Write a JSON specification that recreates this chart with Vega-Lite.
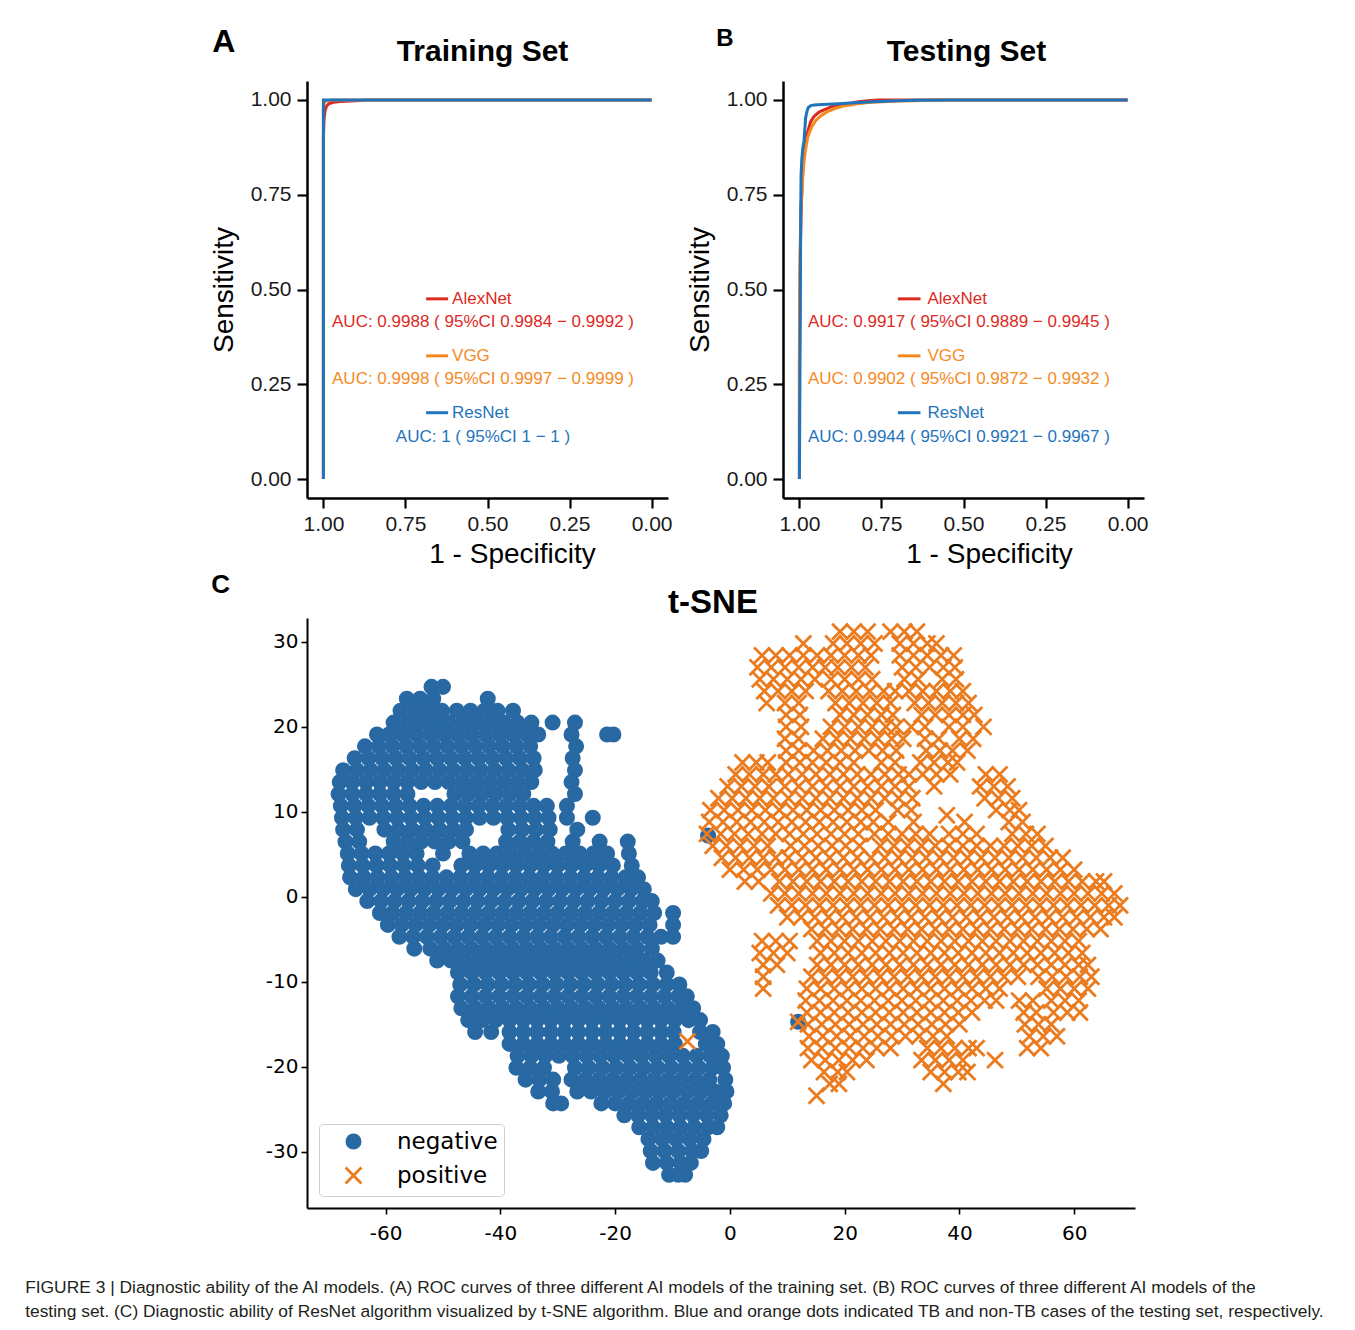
{
"$schema":"https://vega.github.io/schema/vega-lite/v6.json",
"background":"white",
"padding":{"left":25,"top":26,"right":5,"bottom":5},
"title":{"text":["FIGURE 3 | Diagnostic ability of the AI models. (A) ROC curves of three different AI models of the training set. (B) ROC curves of three different AI models of the","testing set. (C) Diagnostic ability of ResNet algorithm visualized by t-SNE algorithm. Blue and orange dots indicated TB and non-TB cases of the testing set, respectively."],"orient":"bottom","anchor":"start","frame":"bounds","dx":-185,"offset":36,"fontSize":17.4,"fontWeight":"normal","font":"Liberation Sans","color":"#231f20","lineHeight":24,"baseline":"top"},
"config":{"view":{"stroke":null},"font":"Liberation Sans","title":{"font":"Liberation Sans","fontWeight":"bold","color":"black","baseline":"bottom"},"axis":{"grid":false}},
"resolve":{"scale":{"fill":"independent","stroke":"independent","shape":"independent","color":"independent"},"legend":{"fill":"independent","stroke":"independent","shape":"independent","color":"independent"}},
"spacing":4,
"vconcat":[
{"spacing":13,"hconcat":[
{"title":{"text":"A","anchor":"start","frame":"bounds","fontSize":32,"offset":-22,"dx":2},
"vconcat":[{
"width":361,"height":417,
"title":{"text":"Training Set","anchor":"middle","frame":"group","fontSize":30,"offset":14,"dx":-5},
"layer":[
{"data":{"values":[
{"model":"AlexNet","i":0,"spec":1,"sens":0},{"model":"AlexNet","i":1,"spec":1,"sens":0.9},{"model":"AlexNet","i":2,"spec":0.998,"sens":0.95},{"model":"AlexNet","i":3,"spec":0.995,"sens":0.972},{"model":"AlexNet","i":4,"spec":0.99,"sens":0.984},{"model":"AlexNet","i":5,"spec":0.984,"sens":0.99},{"model":"AlexNet","i":6,"spec":0.97,"sens":0.994},{"model":"AlexNet","i":7,"spec":0.948,"sens":0.996},{"model":"AlexNet","i":8,"spec":0.9,"sens":0.998},{"model":"AlexNet","i":9,"spec":0.87,"sens":1},{"model":"AlexNet","i":10,"spec":0,"sens":1},
{"model":"VGG","i":0,"spec":1,"sens":0},{"model":"VGG","i":1,"spec":1,"sens":0.98},{"model":"VGG","i":2,"spec":0.997,"sens":0.993},{"model":"VGG","i":3,"spec":0.99,"sens":0.998},{"model":"VGG","i":4,"spec":0.975,"sens":1},{"model":"VGG","i":5,"spec":0,"sens":1},
{"model":"ResNet","i":0,"spec":1,"sens":0},{"model":"ResNet","i":1,"spec":1,"sens":1},{"model":"ResNet","i":2,"spec":0,"sens":1}]},
"mark":{"type":"line","strokeWidth":3},
"encoding":{
"x":{"field":"spec","type":"quantitative","title":"1 - Specificity","scale":{"domain":[-0.05,1.05],"reverse":true,"nice":false,"zero":false},"axis":{"values":[1,0.75,0.5,0.25,0],"format":".2f","domainWidth":2.5,"domainColor":"black","tickWidth":2.2,"tickColor":"black","tickSize":10,"labelFontSize":21,"labelPadding":5,"labelColor":"#1a1a1a","labelFlush":false,"titleFontSize":28,"titleFontWeight":"normal","titleColor":"black","titlePadding":6,"titleX":205}},
"y":{"field":"sens","type":"quantitative","title":"Sensitivity","scale":{"domain":[-0.05,1.05],"nice":false,"zero":false},"axis":{"values":[0,0.25,0.5,0.75,1],"format":".2f","domainWidth":2.5,"domainColor":"black","tickWidth":2.2,"tickColor":"black","tickSize":10,"labelFontSize":21,"labelPadding":6,"labelColor":"#1a1a1a","labelFlush":false,"titleFontSize":28,"titleFontWeight":"normal","titleColor":"black","titlePadding":12}},
"color":{"field":"model","type":"nominal","scale":{"domain":["AlexNet","VGG","ResNet"],"range":["#dc2a1e","#f58a1f","#1f74bd"]},"legend":null},
"order":{"field":"i","type":"quantitative"}}},
{"data":{"values":[
{"model":"AlexNet","nx":0.608,"sx1":0.687,"sx2":0.62,"ny":0.4753,"ax":0.5137,"ay":0.414,"auc":"AUC: 0.9988 ( 95%CI 0.9984 − 0.9992 )"},
{"model":"VGG","nx":0.608,"sx1":0.687,"sx2":0.62,"ny":0.325,"ax":0.5137,"ay":0.2627,"auc":"AUC: 0.9998 ( 95%CI 0.9997 − 0.9999 )"},
{"model":"ResNet","nx":0.608,"sx1":0.687,"sx2":0.62,"ny":0.175,"ax":0.5137,"ay":0.1113,"auc":"AUC: 1 ( 95%CI 1 − 1 )"}]},
"layer":[
{"mark":{"type":"rule","strokeWidth":3},"encoding":{"x":{"field":"sx1","type":"quantitative","title":"1 - Specificity"},"x2":{"field":"sx2"},"y":{"field":"ny","type":"quantitative","title":"Sensitivity"},"color":{"field":"model","type":"nominal","legend":null}}},
{"mark":{"type":"text","align":"left","baseline":"middle","fontSize":17},"encoding":{"x":{"field":"nx","type":"quantitative","title":"1 - Specificity"},"y":{"field":"ny","type":"quantitative","title":"Sensitivity"},"text":{"field":"model"},"color":{"field":"model","type":"nominal","legend":null}}},
{"mark":{"type":"text","align":"center","baseline":"middle","fontSize":17},"encoding":{"x":{"field":"ax","type":"quantitative","title":"1 - Specificity"},"y":{"field":"ay","type":"quantitative","title":"Sensitivity"},"text":{"field":"auc"},"color":{"field":"model","type":"nominal","legend":null}}}]}
]}]},
{"title":{"text":"B","anchor":"start","frame":"bounds","fontSize":24,"offset":-14,"dx":30},
"vconcat":[{
"width":361,"height":417,
"title":{"text":"Testing Set","anchor":"middle","frame":"group","fontSize":30,"offset":14,"dx":3},
"layer":[
{"data":{"values":[
{"model":"AlexNet","i":0,"spec":1,"sens":0},{"model":"AlexNet","i":1,"spec":1,"sens":0.3},{"model":"AlexNet","i":2,"spec":0.998,"sens":0.55},{"model":"AlexNet","i":3,"spec":0.995,"sens":0.7},{"model":"AlexNet","i":4,"spec":0.992,"sens":0.77},{"model":"AlexNet","i":5,"spec":0.989,"sens":0.82},{"model":"AlexNet","i":6,"spec":0.986,"sens":0.86},{"model":"AlexNet","i":7,"spec":0.981,"sens":0.89},{"model":"AlexNet","i":8,"spec":0.975,"sens":0.915},{"model":"AlexNet","i":9,"spec":0.966,"sens":0.942},{"model":"AlexNet","i":10,"spec":0.955,"sens":0.957},{"model":"AlexNet","i":11,"spec":0.94,"sens":0.968},{"model":"AlexNet","i":12,"spec":0.92,"sens":0.976},{"model":"AlexNet","i":13,"spec":0.9,"sens":0.983},{"model":"AlexNet","i":14,"spec":0.875,"sens":0.988},{"model":"AlexNet","i":15,"spec":0.848,"sens":0.991},{"model":"AlexNet","i":16,"spec":0.82,"sens":0.995},{"model":"AlexNet","i":17,"spec":0.79,"sens":0.998},{"model":"AlexNet","i":18,"spec":0.76,"sens":1},{"model":"AlexNet","i":19,"spec":0,"sens":1},
{"model":"VGG","i":0,"spec":1,"sens":0},{"model":"VGG","i":1,"spec":1,"sens":0.35},{"model":"VGG","i":2,"spec":0.998,"sens":0.6},{"model":"VGG","i":3,"spec":0.995,"sens":0.72},{"model":"VGG","i":4,"spec":0.991,"sens":0.78},{"model":"VGG","i":5,"spec":0.989,"sens":0.81},{"model":"VGG","i":6,"spec":0.985,"sens":0.845},{"model":"VGG","i":7,"spec":0.981,"sens":0.87},{"model":"VGG","i":8,"spec":0.975,"sens":0.9},{"model":"VGG","i":9,"spec":0.968,"sens":0.918},{"model":"VGG","i":10,"spec":0.96,"sens":0.933},{"model":"VGG","i":11,"spec":0.95,"sens":0.946},{"model":"VGG","i":12,"spec":0.935,"sens":0.958},{"model":"VGG","i":13,"spec":0.915,"sens":0.969},{"model":"VGG","i":14,"spec":0.89,"sens":0.978},{"model":"VGG","i":15,"spec":0.86,"sens":0.985},{"model":"VGG","i":16,"spec":0.828,"sens":0.989},{"model":"VGG","i":17,"spec":0.79,"sens":0.993},{"model":"VGG","i":18,"spec":0.747,"sens":0.995},{"model":"VGG","i":19,"spec":0.7,"sens":0.997},{"model":"VGG","i":20,"spec":0.645,"sens":0.998},{"model":"VGG","i":21,"spec":0.6,"sens":1},{"model":"VGG","i":22,"spec":0,"sens":1},
{"model":"ResNet","i":0,"spec":1,"sens":0},{"model":"ResNet","i":1,"spec":0.997,"sens":0.5},{"model":"ResNet","i":2,"spec":0.996,"sens":0.7},{"model":"ResNet","i":3,"spec":0.995,"sens":0.8},{"model":"ResNet","i":4,"spec":0.993,"sens":0.84},{"model":"ResNet","i":5,"spec":0.99,"sens":0.87},{"model":"ResNet","i":6,"spec":0.986,"sens":0.892},{"model":"ResNet","i":7,"spec":0.983,"sens":0.93},{"model":"ResNet","i":8,"spec":0.981,"sens":0.953},{"model":"ResNet","i":9,"spec":0.977,"sens":0.97},{"model":"ResNet","i":10,"spec":0.973,"sens":0.98},{"model":"ResNet","i":11,"spec":0.965,"sens":0.985},{"model":"ResNet","i":12,"spec":0.955,"sens":0.987},{"model":"ResNet","i":13,"spec":0.93,"sens":0.988},{"model":"ResNet","i":14,"spec":0.879,"sens":0.99},{"model":"ResNet","i":15,"spec":0.82,"sens":0.993},{"model":"ResNet","i":16,"spec":0.777,"sens":0.995},{"model":"ResNet","i":17,"spec":0.72,"sens":0.997},{"model":"ResNet","i":18,"spec":0.645,"sens":0.999},{"model":"ResNet","i":19,"spec":0.55,"sens":1},{"model":"ResNet","i":20,"spec":0,"sens":1}]},
"mark":{"type":"line","strokeWidth":3},
"encoding":{
"x":{"field":"spec","type":"quantitative","title":"1 - Specificity","scale":{"domain":[-0.05,1.05],"reverse":true,"nice":false,"zero":false},"axis":{"values":[1,0.75,0.5,0.25,0],"format":".2f","domainWidth":2.5,"domainColor":"black","tickWidth":2.2,"tickColor":"black","tickSize":10,"labelFontSize":21,"labelPadding":5,"labelColor":"#1a1a1a","labelFlush":false,"titleFontSize":28,"titleFontWeight":"normal","titleColor":"black","titlePadding":6,"titleX":206}},
"y":{"field":"sens","type":"quantitative","title":"Sensitivity","scale":{"domain":[-0.05,1.05],"nice":false,"zero":false},"axis":{"values":[0,0.25,0.5,0.75,1],"format":".2f","domainWidth":2.5,"domainColor":"black","tickWidth":2.2,"tickColor":"black","tickSize":10,"labelFontSize":21,"labelPadding":6,"labelColor":"#1a1a1a","labelFlush":false,"titleFontSize":28,"titleFontWeight":"normal","titleColor":"black","titlePadding":12}},
"color":{"field":"model","type":"nominal","scale":{"domain":["AlexNet","VGG","ResNet"],"range":["#dc2a1e","#f58a1f","#1f74bd"]},"legend":null},
"order":{"field":"i","type":"quantitative"}}},
{"data":{"values":[
{"model":"AlexNet","nx":0.61,"sx1":0.7,"sx2":0.631,"ny":0.4753,"ax":0.514,"ay":0.414,"auc":"AUC: 0.9917 ( 95%CI 0.9889 − 0.9945 )"},
{"model":"VGG","nx":0.61,"sx1":0.7,"sx2":0.631,"ny":0.325,"ax":0.514,"ay":0.2627,"auc":"AUC: 0.9902 ( 95%CI 0.9872 − 0.9932 )"},
{"model":"ResNet","nx":0.61,"sx1":0.7,"sx2":0.631,"ny":0.175,"ax":0.514,"ay":0.1113,"auc":"AUC: 0.9944 ( 95%CI 0.9921 − 0.9967 )"}]},
"layer":[
{"mark":{"type":"rule","strokeWidth":3},"encoding":{"x":{"field":"sx1","type":"quantitative","title":"1 - Specificity"},"x2":{"field":"sx2"},"y":{"field":"ny","type":"quantitative","title":"Sensitivity"},"color":{"field":"model","type":"nominal","legend":null}}},
{"mark":{"type":"text","align":"left","baseline":"middle","fontSize":17},"encoding":{"x":{"field":"nx","type":"quantitative","title":"1 - Specificity"},"y":{"field":"ny","type":"quantitative","title":"Sensitivity"},"text":{"field":"model"},"color":{"field":"model","type":"nominal","legend":null}}},
{"mark":{"type":"text","align":"center","baseline":"middle","fontSize":17},"encoding":{"x":{"field":"ax","type":"quantitative","title":"1 - Specificity"},"y":{"field":"ay","type":"quantitative","title":"Sensitivity"},"text":{"field":"auc"},"color":{"field":"model","type":"nominal","legend":null}}}]}
]}]}
]},
{"title":{"text":"C","anchor":"start","frame":"bounds","fontSize":26,"offset":-11,"dx":-54},
"resolve":{"scale":{"fill":"independent","stroke":"independent","shape":"independent"},"legend":{"fill":"independent","stroke":"independent","shape":"independent"}},
"vconcat":[{
"width":828,"height":590,
"title":{"text":"t-SNE","anchor":"middle","frame":"group","fontSize":33,"offset":-2,"dx":-8},
"layer":[
{"data":{"values":[
{"x":-52,"y":24.7},{"x":-50,"y":24.7},
{"x":-56.3,"y":23.3},{"x":-54,"y":23.3},{"x":-51.7,"y":23.3},{"x":-42.2,"y":23.3},
{"x":-57.4,"y":21.9},{"x":-55,"y":21.9},{"x":-52.6,"y":21.9},{"x":-50.2,"y":21.9},{"x":-47.6,"y":21.9},{"x":-45.2,"y":21.9},{"x":-42.8,"y":21.9},{"x":-40.5,"y":21.9},{"x":-37.8,"y":21.9},
{"x":-58.6,"y":20.5},{"x":-56.2,"y":20.5},{"x":-53.8,"y":20.5},{"x":-51.4,"y":20.5},{"x":-49,"y":20.5},{"x":-46.6,"y":20.5},{"x":-44.2,"y":20.5},{"x":-41.8,"y":20.5},{"x":-39.4,"y":20.5},{"x":-37,"y":20.5},{"x":-34.6,"y":20.5},{"x":-30.9,"y":20.5},{"x":-27,"y":20.5},
{"x":-61.5,"y":19.1},{"x":-59.4,"y":19.1},{"x":-57,"y":19.1},{"x":-54.6,"y":19.1},{"x":-52.2,"y":19.1},{"x":-49.8,"y":19.1},{"x":-47.4,"y":19.1},{"x":-45,"y":19.1},{"x":-42.6,"y":19.1},{"x":-40.2,"y":19.1},{"x":-37.8,"y":19.1},{"x":-35.4,"y":19.1},{"x":-33.4,"y":19.1},{"x":-27.6,"y":19.1},{"x":-21.4,"y":19.1},{"x":-20.3,"y":19.1},
{"x":-63.6,"y":17.7},{"x":-61.2,"y":17.7},{"x":-58.8,"y":17.7},{"x":-56.4,"y":17.7},{"x":-54,"y":17.7},{"x":-51.6,"y":17.7},{"x":-49.2,"y":17.7},{"x":-46.8,"y":17.7},{"x":-44.4,"y":17.7},{"x":-42,"y":17.7},{"x":-39.6,"y":17.7},{"x":-37.2,"y":17.7},{"x":-34.8,"y":17.7},{"x":-26.8,"y":17.7},
{"x":-65.4,"y":16.3},{"x":-63,"y":16.3},{"x":-60.6,"y":16.3},{"x":-58.2,"y":16.3},{"x":-55.8,"y":16.3},{"x":-53.4,"y":16.3},{"x":-51,"y":16.3},{"x":-48.6,"y":16.3},{"x":-46.2,"y":16.3},{"x":-43.8,"y":16.3},{"x":-41.4,"y":16.3},{"x":-39,"y":16.3},{"x":-36.6,"y":16.3},{"x":-34.2,"y":16.3},{"x":-27.4,"y":16.3},
{"x":-67.4,"y":14.9},{"x":-65,"y":14.9},{"x":-62.6,"y":14.9},{"x":-60.2,"y":14.9},{"x":-57.8,"y":14.9},{"x":-55.4,"y":14.9},{"x":-53,"y":14.9},{"x":-50.6,"y":14.9},{"x":-48.2,"y":14.9},{"x":-45.8,"y":14.9},{"x":-43.4,"y":14.9},{"x":-41,"y":14.9},{"x":-38.6,"y":14.9},{"x":-36.2,"y":14.9},{"x":-34,"y":14.9},{"x":-27,"y":14.9},
{"x":-68,"y":13.5},{"x":-65.8,"y":13.5},{"x":-63.4,"y":13.5},{"x":-61,"y":13.5},{"x":-58.6,"y":13.5},{"x":-56.2,"y":13.5},{"x":-53.8,"y":13.5},{"x":-51.4,"y":13.5},{"x":-49,"y":13.5},{"x":-46.6,"y":13.5},{"x":-44.2,"y":13.5},{"x":-41.8,"y":13.5},{"x":-39.4,"y":13.5},{"x":-37,"y":13.5},{"x":-34.6,"y":13.5},{"x":-27.6,"y":13.5},
{"x":-68.2,"y":12.1},{"x":-65.8,"y":12.1},{"x":-63.4,"y":12.1},{"x":-61,"y":12.1},{"x":-58.6,"y":12.1},{"x":-56.2,"y":12.1},{"x":-48,"y":12.1},{"x":-45.6,"y":12.1},{"x":-43.2,"y":12.1},{"x":-40.8,"y":12.1},{"x":-38.4,"y":12.1},{"x":-36,"y":12.1},{"x":-27,"y":12.1},
{"x":-67.8,"y":10.7},{"x":-65.4,"y":10.7},{"x":-63,"y":10.7},{"x":-60.6,"y":10.7},{"x":-58.2,"y":10.7},{"x":-55.8,"y":10.7},{"x":-53.4,"y":10.7},{"x":-51,"y":10.7},{"x":-48.6,"y":10.7},{"x":-46.2,"y":10.7},{"x":-43.8,"y":10.7},{"x":-41.4,"y":10.7},{"x":-39,"y":10.7},{"x":-36.6,"y":10.7},{"x":-34.2,"y":10.7},{"x":-31.9,"y":10.7},{"x":-28.4,"y":10.7},
{"x":-67.6,"y":9.3},{"x":-65.2,"y":9.3},{"x":-62.8,"y":9.3},{"x":-60.4,"y":9.3},{"x":-58,"y":9.3},{"x":-55.6,"y":9.3},{"x":-53.2,"y":9.3},{"x":-50.8,"y":9.3},{"x":-48.4,"y":9.3},{"x":-46,"y":9.3},{"x":-43.6,"y":9.3},{"x":-41.2,"y":9.3},{"x":-38.8,"y":9.3},{"x":-36.4,"y":9.3},{"x":-34,"y":9.3},{"x":-31.6,"y":9.3},{"x":-28.4,"y":9.3},{"x":-23.9,"y":9.3},
{"x":-67.4,"y":7.9},{"x":-65,"y":7.9},{"x":-60.2,"y":7.9},{"x":-57.8,"y":7.9},{"x":-55.4,"y":7.9},{"x":-53,"y":7.9},{"x":-50.6,"y":7.9},{"x":-48.2,"y":7.9},{"x":-46,"y":7.9},{"x":-38.6,"y":7.9},{"x":-36.2,"y":7.9},{"x":-33.8,"y":7.9},{"x":-31.4,"y":7.9},{"x":-26.6,"y":7.9},
{"x":-67,"y":6.5},{"x":-64.6,"y":6.5},{"x":-58.6,"y":6.5},{"x":-56.2,"y":6.5},{"x":-53.8,"y":6.5},{"x":-51.4,"y":6.5},{"x":-49,"y":6.5},{"x":-46.6,"y":6.5},{"x":-39,"y":6.5},{"x":-36.6,"y":6.5},{"x":-34.2,"y":6.5},{"x":-31.8,"y":6.5},{"x":-27.4,"y":6.5},{"x":-22.7,"y":6.5},{"x":-17.8,"y":6.5},
{"x":-66.6,"y":5.1},{"x":-64.2,"y":5.1},{"x":-61.8,"y":5.1},{"x":-59.4,"y":5.1},{"x":-57,"y":5.1},{"x":-54.6,"y":5.1},{"x":-50,"y":5.1},{"x":-45.4,"y":5.1},{"x":-43,"y":5.1},{"x":-40.6,"y":5.1},{"x":-38.2,"y":5.1},{"x":-35.8,"y":5.1},{"x":-33.4,"y":5.1},{"x":-31,"y":5.1},{"x":-28.6,"y":5.1},{"x":-26.2,"y":5.1},{"x":-23.8,"y":5.1},{"x":-21.4,"y":5.1},{"x":-17.6,"y":5.1},
{"x":-66.4,"y":3.7},{"x":-64,"y":3.7},{"x":-61.6,"y":3.7},{"x":-59.2,"y":3.7},{"x":-56.8,"y":3.7},{"x":-54.4,"y":3.7},{"x":-51.8,"y":3.7},{"x":-46.8,"y":3.7},{"x":-44.4,"y":3.7},{"x":-42,"y":3.7},{"x":-39.6,"y":3.7},{"x":-37.2,"y":3.7},{"x":-34.8,"y":3.7},{"x":-32.4,"y":3.7},{"x":-30,"y":3.7},{"x":-27.6,"y":3.7},{"x":-25.2,"y":3.7},{"x":-22.8,"y":3.7},{"x":-20.4,"y":3.7},{"x":-17.1,"y":3.7},
{"x":-66.2,"y":2.3},{"x":-63.8,"y":2.3},{"x":-61.4,"y":2.3},{"x":-59,"y":2.3},{"x":-56.6,"y":2.3},{"x":-54.2,"y":2.3},{"x":-51.8,"y":2.3},{"x":-49.4,"y":2.3},{"x":-47,"y":2.3},{"x":-44.6,"y":2.3},{"x":-42.2,"y":2.3},{"x":-39.8,"y":2.3},{"x":-37.4,"y":2.3},{"x":-35,"y":2.3},{"x":-32.6,"y":2.3},{"x":-30.2,"y":2.3},{"x":-27.8,"y":2.3},{"x":-25.4,"y":2.3},{"x":-23,"y":2.3},{"x":-20.6,"y":2.3},{"x":-18.2,"y":2.3},{"x":-16,"y":2.3},
{"x":-65.2,"y":0.9},{"x":-62.8,"y":0.9},{"x":-60.4,"y":0.9},{"x":-58,"y":0.9},{"x":-55.6,"y":0.9},{"x":-53.2,"y":0.9},{"x":-50.8,"y":0.9},{"x":-48.4,"y":0.9},{"x":-46,"y":0.9},{"x":-43.6,"y":0.9},{"x":-41.2,"y":0.9},{"x":-38.8,"y":0.9},{"x":-36.4,"y":0.9},{"x":-34,"y":0.9},{"x":-31.6,"y":0.9},{"x":-29.2,"y":0.9},{"x":-26.8,"y":0.9},{"x":-24.4,"y":0.9},{"x":-22,"y":0.9},{"x":-19.6,"y":0.9},{"x":-17.2,"y":0.9},{"x":-15,"y":0.9},
{"x":-63.2,"y":-0.5},{"x":-60.8,"y":-0.5},{"x":-58.4,"y":-0.5},{"x":-56,"y":-0.5},{"x":-53.6,"y":-0.5},{"x":-51.2,"y":-0.5},{"x":-48.8,"y":-0.5},{"x":-46.4,"y":-0.5},{"x":-44,"y":-0.5},{"x":-41.6,"y":-0.5},{"x":-39.2,"y":-0.5},{"x":-36.8,"y":-0.5},{"x":-34.4,"y":-0.5},{"x":-32,"y":-0.5},{"x":-29.6,"y":-0.5},{"x":-27.2,"y":-0.5},{"x":-24.8,"y":-0.5},{"x":-22.4,"y":-0.5},{"x":-20,"y":-0.5},{"x":-17.6,"y":-0.5},{"x":-15.2,"y":-0.5},{"x":-13.6,"y":-0.5},
{"x":-61,"y":-1.9},{"x":-58.8,"y":-1.9},{"x":-56.4,"y":-1.9},{"x":-54,"y":-1.9},{"x":-51.6,"y":-1.9},{"x":-49.2,"y":-1.9},{"x":-46.8,"y":-1.9},{"x":-44.4,"y":-1.9},{"x":-42,"y":-1.9},{"x":-39.6,"y":-1.9},{"x":-37.2,"y":-1.9},{"x":-34.8,"y":-1.9},{"x":-32.4,"y":-1.9},{"x":-30,"y":-1.9},{"x":-27.6,"y":-1.9},{"x":-25.2,"y":-1.9},{"x":-22.8,"y":-1.9},{"x":-20.4,"y":-1.9},{"x":-18,"y":-1.9},{"x":-15.6,"y":-1.9},{"x":-13.2,"y":-1.9},{"x":-9.9,"y":-1.9},
{"x":-59.6,"y":-3.3},{"x":-57.2,"y":-3.3},{"x":-54.8,"y":-3.3},{"x":-52.4,"y":-3.3},{"x":-50,"y":-3.3},{"x":-47.6,"y":-3.3},{"x":-45.2,"y":-3.3},{"x":-42.8,"y":-3.3},{"x":-40.4,"y":-3.3},{"x":-38,"y":-3.3},{"x":-35.6,"y":-3.3},{"x":-33.2,"y":-3.3},{"x":-30.8,"y":-3.3},{"x":-28.4,"y":-3.3},{"x":-26,"y":-3.3},{"x":-23.6,"y":-3.3},{"x":-21.2,"y":-3.3},{"x":-18.8,"y":-3.3},{"x":-16.4,"y":-3.3},{"x":-14,"y":-3.3},{"x":-9.9,"y":-3.3},
{"x":-57.6,"y":-4.7},{"x":-55.2,"y":-4.7},{"x":-52.8,"y":-4.7},{"x":-50.4,"y":-4.7},{"x":-48,"y":-4.7},{"x":-45.6,"y":-4.7},{"x":-43.2,"y":-4.7},{"x":-40.8,"y":-4.7},{"x":-38.4,"y":-4.7},{"x":-36,"y":-4.7},{"x":-33.6,"y":-4.7},{"x":-31.2,"y":-4.7},{"x":-28.8,"y":-4.7},{"x":-26.4,"y":-4.7},{"x":-24,"y":-4.7},{"x":-21.6,"y":-4.7},{"x":-19.2,"y":-4.7},{"x":-16.8,"y":-4.7},{"x":-14.4,"y":-4.7},{"x":-12,"y":-4.7},{"x":-9.9,"y":-4.7},
{"x":-55,"y":-6.1},{"x":-52.2,"y":-6.1},{"x":-49.8,"y":-6.1},{"x":-47.4,"y":-6.1},{"x":-45,"y":-6.1},{"x":-42.6,"y":-6.1},{"x":-40.2,"y":-6.1},{"x":-37.8,"y":-6.1},{"x":-35.4,"y":-6.1},{"x":-33,"y":-6.1},{"x":-30.6,"y":-6.1},{"x":-28.2,"y":-6.1},{"x":-25.8,"y":-6.1},{"x":-23.4,"y":-6.1},{"x":-21,"y":-6.1},{"x":-18.6,"y":-6.1},{"x":-16.2,"y":-6.1},{"x":-13.6,"y":-6.1},
{"x":-51,"y":-7.5},{"x":-48.6,"y":-7.5},{"x":-46.2,"y":-7.5},{"x":-43.8,"y":-7.5},{"x":-41.4,"y":-7.5},{"x":-39,"y":-7.5},{"x":-36.6,"y":-7.5},{"x":-34.2,"y":-7.5},{"x":-31.8,"y":-7.5},{"x":-29.4,"y":-7.5},{"x":-27,"y":-7.5},{"x":-24.6,"y":-7.5},{"x":-22.2,"y":-7.5},{"x":-19.8,"y":-7.5},{"x":-17.4,"y":-7.5},{"x":-15,"y":-7.5},{"x":-12.6,"y":-7.5},
{"x":-47.4,"y":-8.9},{"x":-45,"y":-8.9},{"x":-42.6,"y":-8.9},{"x":-40.2,"y":-8.9},{"x":-37.8,"y":-8.9},{"x":-35.4,"y":-8.9},{"x":-33,"y":-8.9},{"x":-30.6,"y":-8.9},{"x":-28.2,"y":-8.9},{"x":-25.8,"y":-8.9},{"x":-23.4,"y":-8.9},{"x":-21,"y":-8.9},{"x":-18.6,"y":-8.9},{"x":-16.2,"y":-8.9},{"x":-13.8,"y":-8.9},{"x":-11,"y":-8.9},
{"x":-47,"y":-10.3},{"x":-44.6,"y":-10.3},{"x":-42.2,"y":-10.3},{"x":-39.8,"y":-10.3},{"x":-37.4,"y":-10.3},{"x":-35,"y":-10.3},{"x":-32.6,"y":-10.3},{"x":-30.2,"y":-10.3},{"x":-27.8,"y":-10.3},{"x":-25.4,"y":-10.3},{"x":-23,"y":-10.3},{"x":-20.6,"y":-10.3},{"x":-18.2,"y":-10.3},{"x":-15.8,"y":-10.3},{"x":-13.4,"y":-10.3},{"x":-11,"y":-10.3},{"x":-8.8,"y":-10.3},
{"x":-47.4,"y":-11.7},{"x":-45,"y":-11.7},{"x":-42.6,"y":-11.7},{"x":-40.2,"y":-11.7},{"x":-37.8,"y":-11.7},{"x":-35.4,"y":-11.7},{"x":-33,"y":-11.7},{"x":-30.6,"y":-11.7},{"x":-28.2,"y":-11.7},{"x":-25.8,"y":-11.7},{"x":-23.4,"y":-11.7},{"x":-21,"y":-11.7},{"x":-18.6,"y":-11.7},{"x":-16.2,"y":-11.7},{"x":-13.8,"y":-11.7},{"x":-11.4,"y":-11.7},{"x":-9,"y":-11.7},{"x":-7.5,"y":-11.7},
{"x":-46.8,"y":-13.1},{"x":-44.4,"y":-13.1},{"x":-42,"y":-13.1},{"x":-39.6,"y":-13.1},{"x":-37.2,"y":-13.1},{"x":-34.8,"y":-13.1},{"x":-32.4,"y":-13.1},{"x":-30,"y":-13.1},{"x":-27.6,"y":-13.1},{"x":-25.2,"y":-13.1},{"x":-22.8,"y":-13.1},{"x":-20.4,"y":-13.1},{"x":-18,"y":-13.1},{"x":-15.6,"y":-13.1},{"x":-13.2,"y":-13.1},{"x":-10.8,"y":-13.1},{"x":-8.4,"y":-13.1},{"x":-6.4,"y":-13.1},
{"x":-45.6,"y":-14.5},{"x":-43.2,"y":-14.5},{"x":-40.8,"y":-14.5},{"x":-38.4,"y":-14.5},{"x":-36,"y":-14.5},{"x":-33.6,"y":-14.5},{"x":-31.2,"y":-14.5},{"x":-28.8,"y":-14.5},{"x":-26.4,"y":-14.5},{"x":-24,"y":-14.5},{"x":-21.6,"y":-14.5},{"x":-19.2,"y":-14.5},{"x":-16.8,"y":-14.5},{"x":-14.4,"y":-14.5},{"x":-12,"y":-14.5},{"x":-9.6,"y":-14.5},{"x":-7.2,"y":-14.5},{"x":-5.2,"y":-14.5},
{"x":-44.4,"y":-15.9},{"x":-41.6,"y":-15.9},{"x":-38.4,"y":-15.9},{"x":-36,"y":-15.9},{"x":-33.6,"y":-15.9},{"x":-31.2,"y":-15.9},{"x":-28.8,"y":-15.9},{"x":-26.4,"y":-15.9},{"x":-24,"y":-15.9},{"x":-21.6,"y":-15.9},{"x":-19.2,"y":-15.9},{"x":-16.8,"y":-15.9},{"x":-14.4,"y":-15.9},{"x":-12,"y":-15.9},{"x":-9.8,"y":-15.9},{"x":-5.2,"y":-15.9},{"x":-3,"y":-15.9},
{"x":-38.4,"y":-17.3},{"x":-36,"y":-17.3},{"x":-33.6,"y":-17.3},{"x":-31.2,"y":-17.3},{"x":-28.8,"y":-17.3},{"x":-26.4,"y":-17.3},{"x":-24,"y":-17.3},{"x":-21.6,"y":-17.3},{"x":-19.2,"y":-17.3},{"x":-16.8,"y":-17.3},{"x":-14.4,"y":-17.3},{"x":-12,"y":-17.3},{"x":-9.6,"y":-17.3},{"x":-4.2,"y":-17.3},{"x":-2.2,"y":-17.3},
{"x":-37,"y":-18.7},{"x":-34.6,"y":-18.7},{"x":-32.2,"y":-18.7},{"x":-29.8,"y":-18.7},{"x":-27.4,"y":-18.7},{"x":-25,"y":-18.7},{"x":-22.6,"y":-18.7},{"x":-20.2,"y":-18.7},{"x":-17.8,"y":-18.7},{"x":-15.4,"y":-18.7},{"x":-13,"y":-18.7},{"x":-10.6,"y":-18.7},{"x":-8.2,"y":-18.7},{"x":-5.8,"y":-18.7},{"x":-3.4,"y":-18.7},{"x":-1.4,"y":-18.7},
{"x":-37.2,"y":-20.1},{"x":-34.8,"y":-20.1},{"x":-32.4,"y":-20.1},{"x":-27,"y":-20.1},{"x":-24.6,"y":-20.1},{"x":-22.2,"y":-20.1},{"x":-19.8,"y":-20.1},{"x":-17.4,"y":-20.1},{"x":-15,"y":-20.1},{"x":-12.6,"y":-20.1},{"x":-10.2,"y":-20.1},{"x":-7.8,"y":-20.1},{"x":-5.4,"y":-20.1},{"x":-3,"y":-20.1},{"x":-1.2,"y":-20.1},
{"x":-35.6,"y":-21.5},{"x":-33.2,"y":-21.5},{"x":-30.8,"y":-21.5},{"x":-27.6,"y":-21.5},{"x":-25.2,"y":-21.5},{"x":-22.8,"y":-21.5},{"x":-20.4,"y":-21.5},{"x":-18,"y":-21.5},{"x":-15.6,"y":-21.5},{"x":-13.2,"y":-21.5},{"x":-10.8,"y":-21.5},{"x":-8.4,"y":-21.5},{"x":-6,"y":-21.5},{"x":-3.6,"y":-21.5},{"x":-0.8,"y":-21.5},
{"x":-33.4,"y":-22.9},{"x":-31,"y":-22.9},{"x":-26.6,"y":-22.9},{"x":-24.2,"y":-22.9},{"x":-21.8,"y":-22.9},{"x":-19.4,"y":-22.9},{"x":-17,"y":-22.9},{"x":-14.6,"y":-22.9},{"x":-12.2,"y":-22.9},{"x":-9.8,"y":-22.9},{"x":-7.4,"y":-22.9},{"x":-5,"y":-22.9},{"x":-2.6,"y":-22.9},{"x":-0.6,"y":-22.9},
{"x":-30.8,"y":-24.3},{"x":-29.4,"y":-24.3},{"x":-22.4,"y":-24.3},{"x":-20,"y":-24.3},{"x":-17.6,"y":-24.3},{"x":-15.2,"y":-24.3},{"x":-12.8,"y":-24.3},{"x":-10.4,"y":-24.3},{"x":-8,"y":-24.3},{"x":-5.6,"y":-24.3},{"x":-3.2,"y":-24.3},{"x":-1,"y":-24.3},
{"x":-18.4,"y":-25.7},{"x":-16,"y":-25.7},{"x":-13.6,"y":-25.7},{"x":-11.2,"y":-25.7},{"x":-8.8,"y":-25.7},{"x":-6.4,"y":-25.7},{"x":-4,"y":-25.7},{"x":-1.6,"y":-25.7},
{"x":-15.8,"y":-27.1},{"x":-13.4,"y":-27.1},{"x":-11,"y":-27.1},{"x":-8.6,"y":-27.1},{"x":-6.2,"y":-27.1},{"x":-3.8,"y":-27.1},{"x":-2.2,"y":-27.1},
{"x":-14.2,"y":-28.5},{"x":-11.8,"y":-28.5},{"x":-9.4,"y":-28.5},{"x":-7,"y":-28.5},{"x":-4.6,"y":-28.5},
{"x":-13.8,"y":-29.9},{"x":-11.4,"y":-29.9},{"x":-9,"y":-29.9},{"x":-6.6,"y":-29.9},{"x":-5,"y":-29.9},
{"x":-13.4,"y":-31.3},{"x":-11,"y":-31.3},{"x":-8.6,"y":-31.3},{"x":-6.8,"y":-31.3},
{"x":-10.6,"y":-32.7},{"x":-9,"y":-32.7},{"x":-7.8,"y":-32.7},
{"x":-3.8,"y":7.2},{"x":11.9,"y":-14.7}]},
"mark":{"type":"point","filled":true,"strokeWidth":2.8,"size":175,"opacity":1},
"encoding":{
"x":{"field":"x","type":"quantitative","title":null,"scale":{"domain":[-73.7,70.6],"nice":false,"zero":false},"axis":{"values":[-60,-40,-20,0,20,40,60],"labelExpr":"datum.value + ''","domainWidth":2,"domainColor":"black","tickWidth":1.6,"tickColor":"black","tickSize":6,"labelFont":"DejaVu Sans","labelFontSize":20,"labelColor":"black","labelPadding":9,"labelFlush":false}},
"y":{"field":"y","type":"quantitative","title":null,"scale":{"domain":[-36.6,32.8],"nice":false,"zero":false},"axis":{"values":[-30,-20,-10,0,10,20,30],"labelExpr":"datum.value + ''","domainWidth":2,"domainColor":"black","tickWidth":1.6,"tickColor":"black","tickSize":6,"labelFont":"DejaVu Sans","labelFontSize":20,"labelColor":"black","labelPadding":3,"labelFlush":false}},
"fill":{"datum":"negative","type":"nominal","scale":{"domain":["negative","positive"],"range":["#2868a3","#ea7b1f"]},"legend":{"title":null,"orient":"bottom-left","offset":12,"padding":6,"rowPadding":7,"strokeColor":"#d0d0d0","fillColor":"white","cornerRadius":4,"labelFont":"DejaVu Sans","labelFontSize":23,"labelColor":"black","labelOffset":32,"symbolOffset":17,"symbolStrokeWidth":2.8,"symbolSize":175}},
"stroke":{"datum":"negative","type":"nominal","scale":{"domain":["negative","positive"],"range":["#2868a3","#ea7b1f"]},"legend":{"title":null,"orient":"bottom-left","offset":12,"padding":6,"rowPadding":7,"strokeColor":"#d0d0d0","fillColor":"white","cornerRadius":4,"labelFont":"DejaVu Sans","labelFontSize":23,"labelColor":"black","labelOffset":32,"symbolOffset":17,"symbolStrokeWidth":2.8,"symbolSize":175}},
"shape":{"datum":"negative","type":"nominal","scale":{"domain":["negative","positive"],"range":["circle","M-1.2,-1.2L1.2,1.2M-1.2,1.2L1.2,-1.2"]},"legend":{"title":null,"orient":"bottom-left","offset":12,"padding":6,"rowPadding":7,"strokeColor":"#d0d0d0","fillColor":"white","cornerRadius":4,"labelFont":"DejaVu Sans","labelFontSize":23,"labelColor":"black","labelOffset":32,"symbolOffset":17,"symbolStrokeWidth":2.8,"symbolSize":175}}}},
{"data":{"values":[
{"x":19.2,"y":31.2},{"x":21.6,"y":31.2},{"x":24,"y":31.2},{"x":28,"y":31.2},{"x":30.4,"y":31.2},{"x":32.6,"y":31.2},
{"x":12.8,"y":29.8},{"x":18,"y":29.8},{"x":20.4,"y":29.8},{"x":22.8,"y":29.8},{"x":25.2,"y":29.8},{"x":29.6,"y":29.8},{"x":32,"y":29.8},{"x":34.4,"y":29.8},{"x":36,"y":29.8},
{"x":5.6,"y":28.4},{"x":8,"y":28.4},{"x":10.4,"y":28.4},{"x":12.8,"y":28.4},{"x":15.2,"y":28.4},{"x":17.6,"y":28.4},{"x":20,"y":28.4},{"x":22.4,"y":28.4},{"x":24.6,"y":28.4},{"x":29.6,"y":28.4},{"x":32,"y":28.4},{"x":34.4,"y":28.4},{"x":36.8,"y":28.4},{"x":39,"y":28.4},
{"x":4.8,"y":27},{"x":7.2,"y":27},{"x":9.6,"y":27},{"x":12,"y":27},{"x":14.4,"y":27},{"x":16.6,"y":27},{"x":18.8,"y":27},{"x":21.2,"y":27},{"x":23.6,"y":27},{"x":30,"y":27},{"x":32.4,"y":27},{"x":34.8,"y":27},{"x":37.2,"y":27},{"x":39.2,"y":27},
{"x":5.2,"y":25.6},{"x":7.6,"y":25.6},{"x":10,"y":25.6},{"x":12.4,"y":25.6},{"x":14.8,"y":25.6},{"x":17.6,"y":25.6},{"x":20,"y":25.6},{"x":22.4,"y":25.6},{"x":24.8,"y":25.6},{"x":30.4,"y":25.6},{"x":32.8,"y":25.6},{"x":37,"y":25.6},{"x":39.4,"y":25.6},
{"x":6,"y":24.2},{"x":8.4,"y":24.2},{"x":10.8,"y":24.2},{"x":13.2,"y":24.2},{"x":17.2,"y":24.2},{"x":19.6,"y":24.2},{"x":22,"y":24.2},{"x":24.4,"y":24.2},{"x":26.8,"y":24.2},{"x":28.8,"y":24.2},{"x":31.2,"y":24.2},{"x":33.6,"y":24.2},{"x":36,"y":24.2},{"x":38.4,"y":24.2},{"x":40.6,"y":24.2},
{"x":6.4,"y":22.8},{"x":9.6,"y":22.8},{"x":12,"y":22.8},{"x":18.4,"y":22.8},{"x":20.8,"y":22.8},{"x":23.2,"y":22.8},{"x":25.6,"y":22.8},{"x":28,"y":22.8},{"x":32.2,"y":22.8},{"x":34.6,"y":22.8},{"x":37,"y":22.8},{"x":39.4,"y":22.8},{"x":41.6,"y":22.8},
{"x":9.8,"y":21.4},{"x":12.2,"y":21.4},{"x":19.2,"y":21.4},{"x":21.6,"y":21.4},{"x":24,"y":21.4},{"x":26.4,"y":21.4},{"x":28.4,"y":21.4},{"x":33.4,"y":21.4},{"x":35.8,"y":21.4},{"x":38.2,"y":21.4},{"x":40.6,"y":21.4},{"x":42.6,"y":21.4},
{"x":9.8,"y":20},{"x":12.4,"y":20},{"x":17.6,"y":20},{"x":20,"y":20},{"x":22.4,"y":20},{"x":24.8,"y":20},{"x":27.2,"y":20},{"x":29,"y":20},{"x":31.6,"y":20},{"x":34,"y":20},{"x":38.2,"y":20},{"x":40.6,"y":20},{"x":44.2,"y":20},
{"x":9.6,"y":18.6},{"x":12,"y":18.6},{"x":16.2,"y":18.6},{"x":18.6,"y":18.6},{"x":21,"y":18.6},{"x":23.4,"y":18.6},{"x":25.8,"y":18.6},{"x":28.2,"y":18.6},{"x":30.2,"y":18.6},{"x":34,"y":18.6},{"x":36.4,"y":18.6},{"x":40,"y":18.6},{"x":42.4,"y":18.6},
{"x":9.8,"y":17.2},{"x":12,"y":17.2},{"x":14.6,"y":17.2},{"x":17,"y":17.2},{"x":19.4,"y":17.2},{"x":21.8,"y":17.2},{"x":24.2,"y":17.2},{"x":26.6,"y":17.2},{"x":29,"y":17.2},{"x":34.2,"y":17.2},{"x":36.6,"y":17.2},{"x":38.8,"y":17.2},{"x":41.4,"y":17.2},
{"x":2.2,"y":15.8},{"x":4.6,"y":15.8},{"x":6.6,"y":15.8},{"x":9.8,"y":15.8},{"x":12.2,"y":15.8},{"x":14.4,"y":15.8},{"x":16.8,"y":15.8},{"x":19.2,"y":15.8},{"x":21.6,"y":15.8},{"x":26.4,"y":15.8},{"x":28.8,"y":15.8},{"x":33.2,"y":15.8},{"x":35.6,"y":15.8},{"x":38,"y":15.8},{"x":39.6,"y":15.8},
{"x":1,"y":14.4},{"x":3.4,"y":14.4},{"x":5.8,"y":14.4},{"x":8,"y":14.4},{"x":10.2,"y":14.4},{"x":12.6,"y":14.4},{"x":15,"y":14.4},{"x":17.4,"y":14.4},{"x":19.8,"y":14.4},{"x":22.2,"y":14.4},{"x":24.6,"y":14.4},{"x":27,"y":14.4},{"x":29.4,"y":14.4},{"x":31.2,"y":14.4},{"x":33.6,"y":14.4},{"x":36,"y":14.4},{"x":38.4,"y":14.4},{"x":44.6,"y":14.4},{"x":47,"y":14.4},
{"x":-0.4,"y":13},{"x":2,"y":13},{"x":4.4,"y":13},{"x":6.8,"y":13},{"x":9.6,"y":13},{"x":12,"y":13},{"x":14.4,"y":13},{"x":16.8,"y":13},{"x":19.2,"y":13},{"x":21.6,"y":13},{"x":24,"y":13},{"x":26.4,"y":13},{"x":28.8,"y":13},{"x":31.2,"y":13},{"x":35.6,"y":13},{"x":43.6,"y":13},{"x":46,"y":13},{"x":48.4,"y":13},
{"x":-2,"y":11.6},{"x":0.4,"y":11.6},{"x":2.8,"y":11.6},{"x":5.2,"y":11.6},{"x":7.6,"y":11.6},{"x":10.2,"y":11.6},{"x":12.6,"y":11.6},{"x":15,"y":11.6},{"x":17.4,"y":11.6},{"x":19.8,"y":11.6},{"x":22.2,"y":11.6},{"x":24.6,"y":11.6},{"x":27,"y":11.6},{"x":29.4,"y":11.6},{"x":31.8,"y":11.6},{"x":44.4,"y":11.6},{"x":46.8,"y":11.6},{"x":49.2,"y":11.6},
{"x":-3.4,"y":10.2},{"x":-1,"y":10.2},{"x":1.4,"y":10.2},{"x":3.8,"y":10.2},{"x":6.2,"y":10.2},{"x":8.6,"y":10.2},{"x":11,"y":10.2},{"x":13.4,"y":10.2},{"x":15.8,"y":10.2},{"x":18.2,"y":10.2},{"x":20.6,"y":10.2},{"x":23,"y":10.2},{"x":25.4,"y":10.2},{"x":29.2,"y":10.2},{"x":31.6,"y":10.2},{"x":37.8,"y":9.6},{"x":46.4,"y":10.2},{"x":48.8,"y":10.2},{"x":50.4,"y":10.2},
{"x":-3.6,"y":8.8},{"x":-1.2,"y":8.8},{"x":1.2,"y":8.8},{"x":3.6,"y":8.8},{"x":6,"y":8.8},{"x":8.4,"y":8.8},{"x":10.8,"y":8.8},{"x":13.2,"y":8.8},{"x":15.6,"y":8.8},{"x":18,"y":8.8},{"x":20.4,"y":8.8},{"x":22.8,"y":8.8},{"x":25,"y":8.8},{"x":27.6,"y":8.8},{"x":32,"y":8.8},{"x":40.9,"y":8.8},{"x":48.6,"y":8.8},{"x":51,"y":8.8},
{"x":-4,"y":7.4},{"x":-1.6,"y":7.4},{"x":0.8,"y":7.4},{"x":3.2,"y":7.4},{"x":5.6,"y":7.4},{"x":8,"y":7.4},{"x":10.4,"y":7.4},{"x":12.8,"y":7.4},{"x":15.2,"y":7.4},{"x":17.6,"y":7.4},{"x":20,"y":7.4},{"x":22.4,"y":7.4},{"x":25.2,"y":7.4},{"x":27.6,"y":7.4},{"x":30,"y":7.4},{"x":32.4,"y":7.4},{"x":34.8,"y":7.4},{"x":38.2,"y":7.4},{"x":40.6,"y":7.4},{"x":43,"y":7.4},{"x":49.2,"y":7.4},{"x":51.6,"y":7.4},{"x":53.6,"y":7.4},
{"x":-3,"y":6},{"x":-0.6,"y":6},{"x":1.8,"y":6},{"x":4.2,"y":6},{"x":6.6,"y":6},{"x":10.6,"y":6},{"x":13,"y":6},{"x":15.4,"y":6},{"x":17.8,"y":6},{"x":20.2,"y":6},{"x":22.6,"y":6},{"x":26.2,"y":6},{"x":28.6,"y":6},{"x":31,"y":6},{"x":33.4,"y":6},{"x":35.8,"y":6},{"x":38.2,"y":6},{"x":40.6,"y":6},{"x":43,"y":6},{"x":45.4,"y":6},{"x":47.8,"y":6},{"x":50.2,"y":6},{"x":52.6,"y":6},{"x":55,"y":6},
{"x":-1.4,"y":4.6},{"x":1,"y":4.6},{"x":3.4,"y":4.6},{"x":5.8,"y":4.6},{"x":8,"y":4.6},{"x":10.2,"y":4.6},{"x":12.6,"y":4.6},{"x":15,"y":4.6},{"x":17.4,"y":4.6},{"x":19.8,"y":4.6},{"x":22.2,"y":4.6},{"x":24.6,"y":4.6},{"x":27,"y":4.6},{"x":29.4,"y":4.6},{"x":31.8,"y":4.6},{"x":34.2,"y":4.6},{"x":36.6,"y":4.6},{"x":39,"y":4.6},{"x":41.4,"y":4.6},{"x":43.8,"y":4.6},{"x":46.2,"y":4.6},{"x":48.6,"y":4.6},{"x":51,"y":4.6},{"x":53.4,"y":4.6},{"x":55.8,"y":4.6},{"x":58,"y":4.6},
{"x":0,"y":3.2},{"x":2.4,"y":3.2},{"x":4.8,"y":3.2},{"x":7.2,"y":3.2},{"x":9.6,"y":3.2},{"x":12,"y":3.2},{"x":14.4,"y":3.2},{"x":16.8,"y":3.2},{"x":19.2,"y":3.2},{"x":21.6,"y":3.2},{"x":24,"y":3.2},{"x":26.4,"y":3.2},{"x":28.8,"y":3.2},{"x":31.2,"y":3.2},{"x":33.6,"y":3.2},{"x":36,"y":3.2},{"x":38.4,"y":3.2},{"x":40.8,"y":3.2},{"x":43.2,"y":3.2},{"x":45.6,"y":3.2},{"x":48,"y":3.2},{"x":50.4,"y":3.2},{"x":52.8,"y":3.2},{"x":55.2,"y":3.2},{"x":57.6,"y":3.2},{"x":60,"y":3.2},
{"x":2.6,"y":1.8},{"x":5,"y":1.8},{"x":8.6,"y":1.8},{"x":11,"y":1.8},{"x":13.4,"y":1.8},{"x":15.8,"y":1.8},{"x":18.2,"y":1.8},{"x":20.6,"y":1.8},{"x":23,"y":1.8},{"x":25.4,"y":1.8},{"x":27.8,"y":1.8},{"x":30.2,"y":1.8},{"x":32.6,"y":1.8},{"x":35,"y":1.8},{"x":37.4,"y":1.8},{"x":39.8,"y":1.8},{"x":42.2,"y":1.8},{"x":44.6,"y":1.8},{"x":47,"y":1.8},{"x":49.4,"y":1.8},{"x":51.8,"y":1.8},{"x":54.2,"y":1.8},{"x":56.6,"y":1.8},{"x":59,"y":1.8},{"x":61.4,"y":1.8},{"x":63.8,"y":1.8},{"x":65.2,"y":1.8},
{"x":7.2,"y":0.4},{"x":9.6,"y":0.4},{"x":12,"y":0.4},{"x":14.4,"y":0.4},{"x":16.8,"y":0.4},{"x":19.2,"y":0.4},{"x":21.6,"y":0.4},{"x":24,"y":0.4},{"x":26.4,"y":0.4},{"x":28.8,"y":0.4},{"x":31.2,"y":0.4},{"x":33.6,"y":0.4},{"x":36,"y":0.4},{"x":38.4,"y":0.4},{"x":40.8,"y":0.4},{"x":43.2,"y":0.4},{"x":45.6,"y":0.4},{"x":48,"y":0.4},{"x":50.4,"y":0.4},{"x":52.8,"y":0.4},{"x":55.2,"y":0.4},{"x":57.6,"y":0.4},{"x":60,"y":0.4},{"x":62.4,"y":0.4},{"x":64.8,"y":0.4},{"x":67,"y":0.4},
{"x":8.4,"y":-1},{"x":10.8,"y":-1},{"x":13.2,"y":-1},{"x":15.6,"y":-1},{"x":18,"y":-1},{"x":20.4,"y":-1},{"x":22.8,"y":-1},{"x":25.2,"y":-1},{"x":27.6,"y":-1},{"x":30,"y":-1},{"x":32.4,"y":-1},{"x":34.8,"y":-1},{"x":37.2,"y":-1},{"x":39.6,"y":-1},{"x":42,"y":-1},{"x":44.4,"y":-1},{"x":46.8,"y":-1},{"x":49.2,"y":-1},{"x":51.6,"y":-1},{"x":54,"y":-1},{"x":56.4,"y":-1},{"x":58.8,"y":-1},{"x":61.2,"y":-1},{"x":63.6,"y":-1},{"x":66,"y":-1},{"x":68,"y":-1},
{"x":10,"y":-2.4},{"x":12.4,"y":-2.4},{"x":14.8,"y":-2.4},{"x":17.2,"y":-2.4},{"x":19.6,"y":-2.4},{"x":22,"y":-2.4},{"x":24.4,"y":-2.4},{"x":26.8,"y":-2.4},{"x":29.2,"y":-2.4},{"x":31.6,"y":-2.4},{"x":34,"y":-2.4},{"x":36.4,"y":-2.4},{"x":38.8,"y":-2.4},{"x":41.2,"y":-2.4},{"x":43.6,"y":-2.4},{"x":46,"y":-2.4},{"x":48.4,"y":-2.4},{"x":50.8,"y":-2.4},{"x":53.2,"y":-2.4},{"x":55.6,"y":-2.4},{"x":58,"y":-2.4},{"x":60.4,"y":-2.4},{"x":62.8,"y":-2.4},{"x":65.2,"y":-2.4},{"x":67,"y":-2.4},
{"x":14.2,"y":-3.8},{"x":16.6,"y":-3.8},{"x":19,"y":-3.8},{"x":21.4,"y":-3.8},{"x":23.8,"y":-3.8},{"x":26.2,"y":-3.8},{"x":28.6,"y":-3.8},{"x":31,"y":-3.8},{"x":33.4,"y":-3.8},{"x":35.8,"y":-3.8},{"x":38.2,"y":-3.8},{"x":40.6,"y":-3.8},{"x":43,"y":-3.8},{"x":45.4,"y":-3.8},{"x":47.8,"y":-3.8},{"x":50.2,"y":-3.8},{"x":52.6,"y":-3.8},{"x":55,"y":-3.8},{"x":57.4,"y":-3.8},{"x":59.8,"y":-3.8},{"x":62.2,"y":-3.8},{"x":64.6,"y":-3.8},
{"x":5.6,"y":-5.2},{"x":8,"y":-5.2},{"x":10.4,"y":-5.2},{"x":15.2,"y":-5.2},{"x":17.6,"y":-5.2},{"x":20,"y":-5.2},{"x":22.4,"y":-5.2},{"x":24.8,"y":-5.2},{"x":27.2,"y":-5.2},{"x":29.6,"y":-5.2},{"x":32,"y":-5.2},{"x":34.4,"y":-5.2},{"x":36.8,"y":-5.2},{"x":39.2,"y":-5.2},{"x":41.6,"y":-5.2},{"x":44,"y":-5.2},{"x":46.4,"y":-5.2},{"x":48.8,"y":-5.2},{"x":51.2,"y":-5.2},{"x":53.6,"y":-5.2},{"x":56,"y":-5.2},{"x":58.4,"y":-5.2},{"x":60.8,"y":-5.2},
{"x":5.2,"y":-6.6},{"x":7.6,"y":-6.6},{"x":10,"y":-6.6},{"x":15.8,"y":-6.6},{"x":18.2,"y":-6.6},{"x":20.6,"y":-6.6},{"x":23,"y":-6.6},{"x":25.4,"y":-6.6},{"x":27.8,"y":-6.6},{"x":30.2,"y":-6.6},{"x":32.6,"y":-6.6},{"x":35,"y":-6.6},{"x":37.4,"y":-6.6},{"x":39.8,"y":-6.6},{"x":42.2,"y":-6.6},{"x":44.6,"y":-6.6},{"x":47,"y":-6.6},{"x":49.4,"y":-6.6},{"x":51.8,"y":-6.6},{"x":54.2,"y":-6.6},{"x":56.6,"y":-6.6},{"x":59,"y":-6.6},{"x":61.4,"y":-6.6},
{"x":5.8,"y":-8},{"x":8.2,"y":-8},{"x":15.2,"y":-8},{"x":17.6,"y":-8},{"x":20,"y":-8},{"x":22.4,"y":-8},{"x":24.8,"y":-8},{"x":27.2,"y":-8},{"x":29.6,"y":-8},{"x":32,"y":-8},{"x":34.4,"y":-8},{"x":36.8,"y":-8},{"x":39.2,"y":-8},{"x":41.6,"y":-8},{"x":44,"y":-8},{"x":46.4,"y":-8},{"x":48.8,"y":-8},{"x":51.2,"y":-8},{"x":53.6,"y":-8},{"x":56,"y":-8},{"x":58.4,"y":-8},{"x":60.8,"y":-8},{"x":62.4,"y":-8},
{"x":5.8,"y":-9.4},{"x":14.2,"y":-9.4},{"x":16.6,"y":-9.4},{"x":19,"y":-9.4},{"x":21.4,"y":-9.4},{"x":23.8,"y":-9.4},{"x":26.2,"y":-9.4},{"x":28.6,"y":-9.4},{"x":31,"y":-9.4},{"x":33.4,"y":-9.4},{"x":35.8,"y":-9.4},{"x":38.2,"y":-9.4},{"x":40.6,"y":-9.4},{"x":43,"y":-9.4},{"x":45.4,"y":-9.4},{"x":47.8,"y":-9.4},{"x":50.2,"y":-9.4},{"x":53.8,"y":-9.4},{"x":56.2,"y":-9.4},{"x":58.6,"y":-9.4},{"x":61,"y":-9.4},{"x":63,"y":-9.4},
{"x":5.8,"y":-10.8},{"x":13.4,"y":-10.8},{"x":15.8,"y":-10.8},{"x":18.2,"y":-10.8},{"x":20.6,"y":-10.8},{"x":23,"y":-10.8},{"x":25.4,"y":-10.8},{"x":27.8,"y":-10.8},{"x":30.2,"y":-10.8},{"x":32.6,"y":-10.8},{"x":35,"y":-10.8},{"x":37.4,"y":-10.8},{"x":39.8,"y":-10.8},{"x":42.2,"y":-10.8},{"x":44.6,"y":-10.8},{"x":47,"y":-10.8},{"x":55.2,"y":-10.8},{"x":57.6,"y":-10.8},{"x":60,"y":-10.8},{"x":62.4,"y":-10.8},
{"x":13.2,"y":-12.2},{"x":15.6,"y":-12.2},{"x":18,"y":-12.2},{"x":20.4,"y":-12.2},{"x":22.8,"y":-12.2},{"x":25.2,"y":-12.2},{"x":27.6,"y":-12.2},{"x":30,"y":-12.2},{"x":32.4,"y":-12.2},{"x":34.8,"y":-12.2},{"x":37.2,"y":-12.2},{"x":39.6,"y":-12.2},{"x":42,"y":-12.2},{"x":44.4,"y":-12.2},{"x":46.4,"y":-12.2},{"x":50.4,"y":-12.2},{"x":52.8,"y":-12.2},{"x":56,"y":-12.2},{"x":58.4,"y":-12.2},{"x":60.8,"y":-12.2},
{"x":13.4,"y":-13.6},{"x":15.8,"y":-13.6},{"x":18.2,"y":-13.6},{"x":20.6,"y":-13.6},{"x":23,"y":-13.6},{"x":25.4,"y":-13.6},{"x":27.8,"y":-13.6},{"x":30.2,"y":-13.6},{"x":32.6,"y":-13.6},{"x":35,"y":-13.6},{"x":37.4,"y":-13.6},{"x":39.8,"y":-13.6},{"x":42.2,"y":-13.6},{"x":51.2,"y":-13.6},{"x":53.4,"y":-13.6},{"x":56.4,"y":-13.6},{"x":58.8,"y":-13.6},{"x":61,"y":-13.6},
{"x":13.6,"y":-15},{"x":16,"y":-15},{"x":18.4,"y":-15},{"x":20.8,"y":-15},{"x":23.2,"y":-15},{"x":25.6,"y":-15},{"x":28,"y":-15},{"x":30.4,"y":-15},{"x":32.8,"y":-15},{"x":35.2,"y":-15},{"x":37.6,"y":-15},{"x":40,"y":-15},{"x":51.4,"y":-15},{"x":53.8,"y":-15},{"x":56,"y":-15},
{"x":13.8,"y":-16.4},{"x":16.2,"y":-16.4},{"x":18.6,"y":-16.4},{"x":21,"y":-16.4},{"x":23.4,"y":-16.4},{"x":25.8,"y":-16.4},{"x":28.2,"y":-16.4},{"x":30.6,"y":-16.4},{"x":33,"y":-16.4},{"x":35.4,"y":-16.4},{"x":37.8,"y":-16.4},{"x":52.2,"y":-16.4},{"x":54.6,"y":-16.4},{"x":57,"y":-16.4},
{"x":13.6,"y":-17.8},{"x":16,"y":-17.8},{"x":18.4,"y":-17.8},{"x":20.8,"y":-17.8},{"x":23.2,"y":-17.8},{"x":25.6,"y":-17.8},{"x":28,"y":-17.8},{"x":34.4,"y":-17.8},{"x":36.8,"y":-17.8},{"x":39.2,"y":-17.8},{"x":41.6,"y":-17.8},{"x":43,"y":-17.8},{"x":51.8,"y":-17.8},{"x":54.2,"y":-17.8},
{"x":14.2,"y":-19.2},{"x":16.6,"y":-19.2},{"x":19,"y":-19.2},{"x":21.4,"y":-19.2},{"x":23.8,"y":-19.2},{"x":33.4,"y":-19.2},{"x":35.8,"y":-19.2},{"x":38.2,"y":-19.2},{"x":40.6,"y":-19.2},{"x":46.2,"y":-19.2},
{"x":16.4,"y":-20.6},{"x":18.8,"y":-20.6},{"x":20.4,"y":-20.6},{"x":35,"y":-20.6},{"x":37.4,"y":-20.6},{"x":39.8,"y":-20.6},{"x":41.4,"y":-20.6},
{"x":17.4,"y":-22},{"x":19,"y":-22},{"x":37.2,"y":-22},
{"x":15.1,"y":-23.4},
{"x":-7.4,"y":-17},{"x":11.9,"y":-14.7}]},
"mark":{"type":"point","filled":true,"strokeWidth":2.8,"size":175,"opacity":1},
"encoding":{
"x":{"field":"x","type":"quantitative","title":null},
"y":{"field":"y","type":"quantitative","title":null},
"fill":{"datum":"positive","type":"nominal"},
"stroke":{"datum":"positive","type":"nominal"},
"shape":{"datum":"positive","type":"nominal"}}}
]}]}
]
}
